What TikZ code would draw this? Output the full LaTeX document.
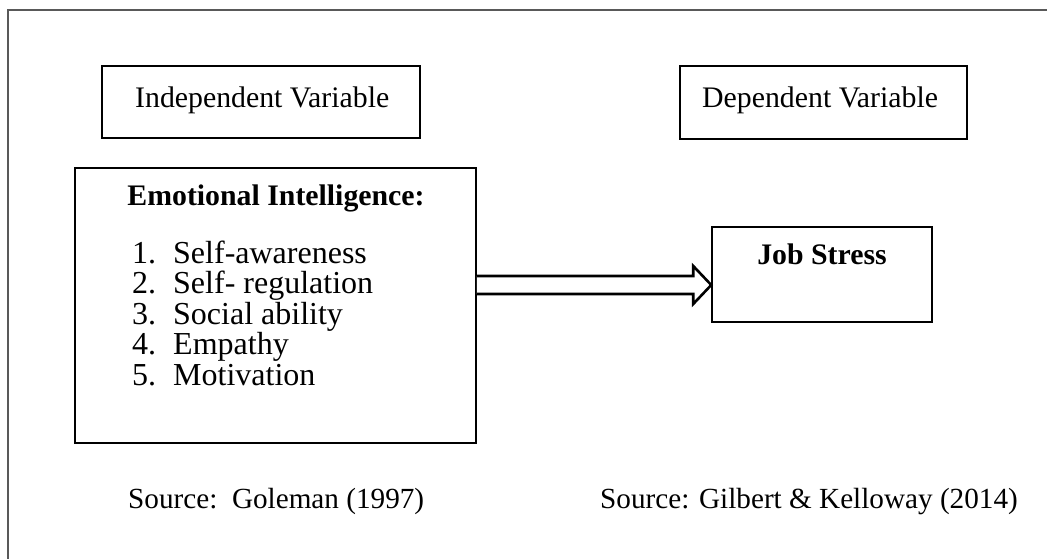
\documentclass[tikz,border=0pt]{standalone}
\usepackage{fontspec}
\setmainfont{Liberation Serif}
\usetikzlibrary{calc}
\begin{document}
\begin{tikzpicture}[x=1pt,y=-1pt,
  box/.style={draw=black, line width=1.5pt, inner sep=0pt},
  txt/.style={inner sep=0pt, font=\fontsize{29.8}{33}\selectfont},
  stxt/.style={inner sep=0pt, font=\fontsize{29.2}{33}\selectfont},
  ltxt/.style={inner sep=0pt, font=\fontsize{32}{35}\selectfont},
  btxt/.style={inner sep=0pt, font=\fontsize{29.8}{33}\selectfont\bfseries},
  frame/.style={draw=black!65, line width=1.5pt},
  bigarrow/.style={draw=black, line width=2.6pt, fill=white, line join=miter}]
\useasboundingbox (0,0) rectangle (1047,559);
% outer frame (cropped)
\coordinate (f1) at (8,559);
\coordinate (f2) at (8,10);
\coordinate (f3) at (1047,10);
\draw[frame] (f1) -- (f2) -- (f3);
% boxes
\node[box, minimum width=318pt, minimum height=72pt] (iv) at (261,102) {};
\node[box, minimum width=287pt, minimum height=73pt] (dv) at (823.5,102.5) {};
\node[box, minimum width=401pt, minimum height=275pt] (ei) at (275.5,305.5) {};
\node[box, minimum width=220pt, minimum height=95pt] (js) at (822,274.5) {};
% texts
\node[txt, anchor=base west] (ivt) at (135,108) {Independent Variable};
\node[txt, anchor=base west] (dvt) at (702,108) {Dependent Variable};
\node[btxt, anchor=base] (eit) at (276,205) {Emotional Intelligence:};
\node[btxt, anchor=base] (jst) at (822,264) {Job Stress};
\node[ltxt, anchor=base west] (n1) at (132,263) {1.};
\node[ltxt, anchor=base west] (n2) at (132,293.5) {2.};
\node[ltxt, anchor=base west] (n3) at (132,324) {3.};
\node[ltxt, anchor=base west] (n4) at (132,354.5) {4.};
\node[ltxt, anchor=base west] (n5) at (132,385) {5.};
\node[ltxt, anchor=base west] (i1) at (173,263) {Self-awareness};
\node[ltxt, anchor=base west] (i2) at (173,293.5) {Self- regulation};
\node[ltxt, anchor=base west] (i3) at (173,324) {Social ability};
\node[ltxt, anchor=base west] (i4) at (173,354.5) {Empathy};
\node[ltxt, anchor=base west] (i5) at (173,385) {Motivation};
\node[stxt, anchor=base west] (s1) at (128,508) {Source:\ \ Goleman (1997)};
\node[stxt, anchor=base west] (s2) at (600,508) {Source: Gilbert \& Kelloway (2014)};
% hollow arrow from ei to js
\coordinate (as) at (ei.east |- 0,285);
\coordinate (at) at (js.west |- 0,285);
\draw[bigarrow] ($(as)+(0,-9)$) -- ($(at)+(-18,-9)$) -- ($(at)+(-18,-19)$) -- (at)
  -- ($(at)+(-18,19)$) -- ($(at)+(-18,9)$) -- ($(as)+(0,9)$);
\end{tikzpicture}
\end{document}
